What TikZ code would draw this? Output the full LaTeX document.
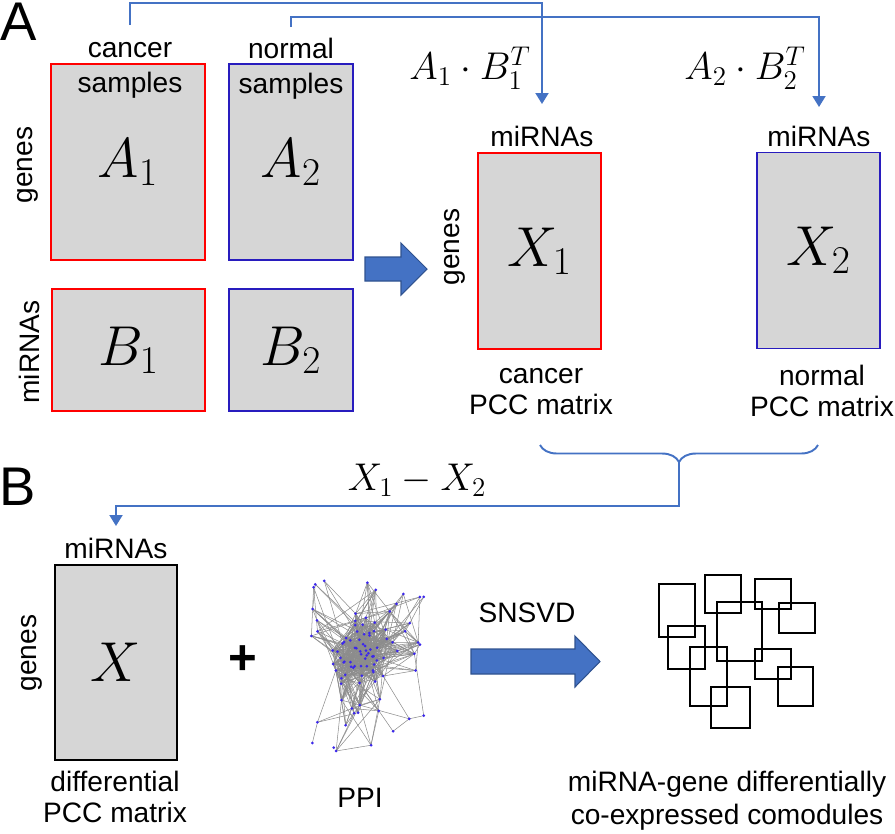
\documentclass[tikz,border=0pt]{standalone}
\usepackage{fix-cm}
\usepackage{fontspec}
\setmainfont{Liberation Sans}
\usetikzlibrary{arrows.meta,decorations.pathreplacing}
\definecolor{cancred}{RGB}{255,0,0}
\definecolor{normblue}{RGB}{40,28,190}
\definecolor{matgray}{RGB}{214,214,214}
\definecolor{linkblue}{RGB}{68,114,196}
\definecolor{arrowedge}{RGB}{47,82,143}
\definecolor{dotblue}{RGB}{60,40,235}
\definecolor{edgegray}{RGB}{140,140,140}
\begin{document}
\begin{tikzpicture}
        [
           x=0.02cm, y=-0.02cm,
           every node/.style={inner sep=0pt},
           lbl/.style={font=\fontsize{16}{17.6}\selectfont, align=center},
           panellbl/.style={font=\fontsize{31}{31}\selectfont},
           matbox/.style={draw, fill=matgray, line width=1.1pt, font=\fontsize{32}{32}\selectfont},
           tallbox/.style={minimum height=3.92cm},
           formula/.style={font=\fontsize{22}{22}\selectfont},
           conn/.style={draw=linkblue, line width=1.1pt},
           linkarrow/.style={-{Triangle[width=0.26cm,length=0.22cm]}},
           bigarrow/.style={fill=linkblue, draw=arrowedge, line width=0.6pt},
           modbox/.style={draw, line width=1.4pt},
           ppiedge/.style={draw=edgegray, line width=0.3pt},
           ppidot/.style={circle, fill=dotblue, minimum size=0.06cm}
        ]
        \useasboundingbox (0,0) rectangle (895,833);
        \node[panellbl] (pa) at (19,22) {A};
        \node[panellbl] (pb) at (18,487) {B};
        \node[matbox, draw=cancred, minimum width=3.08cm, tallbox] (a1) at (128,162) {$A_1$};
        \node[matbox, draw=normblue, minimum width=2.48cm, tallbox] (a2) at (291,162) {$A_2$};
        \node[matbox, draw=cancred, minimum width=3.06cm, minimum height=2.44cm] (b1) at (128.5,350) {$B_1$};
        \node[matbox, draw=normblue, minimum width=2.48cm, minimum height=2.44cm] (b2) at (291,350) {$B_2$};
        \node[lbl, font=\fontsize{16}{20}\selectfont] (cansmp) at (130,70) {cancer\\samples};
        \node[lbl, font=\fontsize{16}{20}\selectfont] (normsmp) at (291,69) {normal\\samples};
        \node[lbl, rotate=90] (agenes) at (28,165) {genes};
        \node[lbl, rotate=90] (bmirna) at (29,352) {miRNAs};
        \draw[bigarrow] (365,257) -- (401,257) -- (401,243) -- (427,269) -- (401,295) -- (401,281) -- (365,281) -- cycle;
        \node[matbox, draw=cancred, minimum width=2.46cm, tallbox] (x1) at (539.5,251) {$X_1$};
        \node[matbox, draw=normblue, minimum width=2.46cm, tallbox] (x2) at (818.5,250.5) {$X_2$};
        \node[lbl] (x1mirna) at (542,136) {miRNAs};
        \node[lbl] (x2mirna) at (819,136) {miRNAs};
        \node[lbl, rotate=90] (x1genes) at (455,247) {genes};
        \node[lbl] (x1name) at (541,392) {cancer\\PCC matrix};
        \node[lbl] (x2name) at (822,391) {normal\\PCC matrix};
        \node[formula] (prod1) at (470,68) {$A_1\cdot B_1^T$};
        \node[formula] (prod2) at (745,68) {$A_2\cdot B_2^T$};
        \coordinate (from1) at (130,25);
        \coordinate (from2) at (291,27);
        \coordinate (to1) at (542,104);
        \coordinate (to2) at (819,107);
        \draw[conn, linkarrow] (from1) -- (130,3) -| (to1);
        \draw[conn, linkarrow] (from2) -- (291,17) -| (to2);
        \draw[conn, decorate, decoration={brace, amplitude=0.34cm, mirror}] (540,445) -- (818,445);
        \coordinate (bracetip) at (679,462);
        \coordinate (tox) at (116,526);
        \draw[conn, linkarrow] (bracetip) -- (679,506) -| (tox);
        \node[formula] (diff) at (417,480) {$X_1-X_2$};
        \node[matbox, minimum width=2.44cm, minimum height=3.9cm] (xd) at (116,662.5) {$X$};
        \node[lbl] (xmirna) at (116,548) {miRNAs};
        \node[lbl, rotate=90] (xgenes) at (32,653) {genes};
        \node[lbl] (xname) at (115,797) {differential\\PCC matrix};
        \node[font=\fontsize{28}{28}\selectfont\bfseries] (plus) at (243,660) {+};
        \pgfmathsetseed{5}
        \foreach \i in {1,...,95}{
          \ifnum\i<51
            \pgfmathsetmacro\px{364+19*(rand+rand+rand)}
            \pgfmathsetmacro\py{650+19*(rand+rand+rand)}
          \else
            \pgfmathsetmacro\px{367+58*rand}
            \pgfmathsetmacro\py{662+92*rand}
          \fi
          \expandafter\xdef\csname ppx\i\endcsname{\px}
          \expandafter\xdef\csname ppy\i\endcsname{\py}
          \coordinate (p\i) at (\px,\py);
        }
        \foreach \i in {2,...,95}{
          \pgfmathtruncatemacro\prev{\i-1}
          \foreach \j in {1,...,\prev}{
            \pgfmathsetmacro\dist{veclen(\csname ppx\i\endcsname-\csname ppx\j\endcsname,\csname ppy\i\endcsname-\csname ppy\j\endcsname)}
            \pgfmathtruncatemacro\hit{rnd<0.45*(1-\dist/80)}
            \ifnum\hit=1 \draw[ppiedge] (p\i) -- (p\j); \fi
          }
        }
        \foreach \i in {1,...,95}
          \node[ppidot] (d\i) at (p\i) {};
        \node[lbl] (ppi) at (360,798) {PPI};
        \node[lbl] (snsvd) at (527,613) {SNSVD};
        \draw[bigarrow] (471,649) -- (575,649) -- (575,636) -- (600,661.5) -- (575,687) -- (575,674) -- (471,674) -- cycle;
        \foreach \xa/\ya/\xb/\yb in {659/584/695/637, 705/575/741/613, 755/579/791/609, 717/602/762/661, 779/603/815/633, 668/626/705/669, 690/647/727/706, 755/649/791/679, 778/667/813/706, 711/687/750/728}
          \draw[modbox] (\xa,\ya) rectangle (\xb,\yb);
        \node[lbl, font=\fontsize{16}{18.7}\selectfont] (modname) at (727,801) {miRNA-gene differentially\\co-expressed comodules};
    \end{tikzpicture}
\end{document}
